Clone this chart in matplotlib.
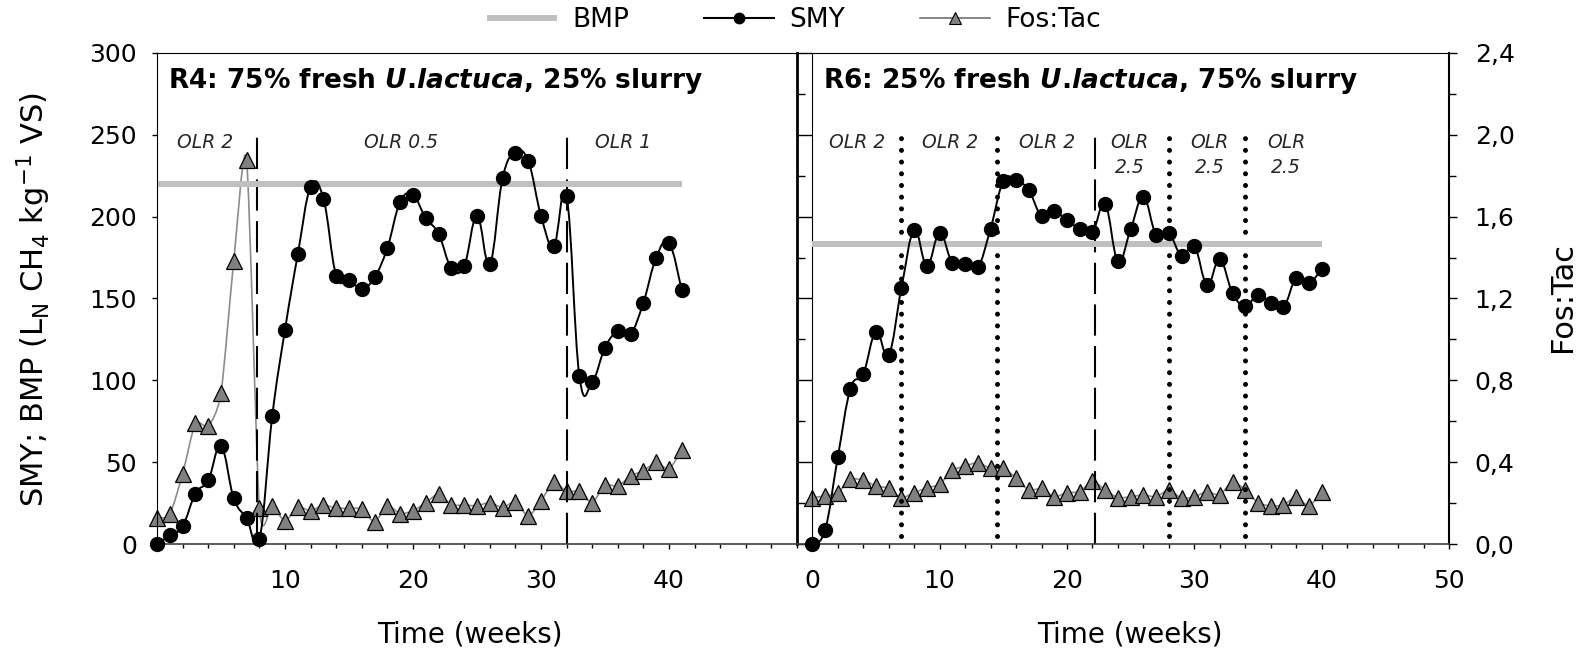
import matplotlib
matplotlib.use("Agg")
import matplotlib.pyplot as plt
import matplotlib.ticker as mticker
from matplotlib.lines import Line2D
from matplotlib.patches import PathPatch
from matplotlib.path import Path

plt.rcParams["font.family"] = "DejaVu Sans"
plt.rcParams["mathtext.fontset"] = "custom"
plt.rcParams["mathtext.rm"] = "DejaVu Sans"
plt.rcParams["mathtext.it"] = "DejaVu Sans:italic:bold"
plt.rcParams["mathtext.default"] = "regular"

# --- R4 reactor (75% U. lactuca) ---
r4_weeks = list(range(42))
r4_smy = [0, 5.5, 11, 31, 39, 60, 28, 16, 3, 78, 131, 177, 218, 211, 164, 161.5,
          156, 163, 181, 209, 213, 199, 189.5, 168.5, 170, 200.5, 171, 223.5, 239,
          234, 200.5, 182, 212.5, 102.5, 99, 120, 130, 128.5, 147.5, 175, 184, 155]
r4_fostac = [0.128, 0.147, 0.344, 0.59, 0.576, 0.74, 1.384, 1.875, 0.176, 0.188,
             0.114, 0.183, 0.163, 0.192, 0.176, 0.176, 0.171, 0.11, 0.188, 0.15,
             0.163, 0.204, 0.245, 0.192, 0.192, 0.188, 0.204, 0.179, 0.208, 0.138,
             0.212, 0.302, 0.258, 0.258, 0.204, 0.289, 0.284, 0.334, 0.359, 0.40,
             0.368, 0.461]
r4_bmp = 220
r4_bmp_span = [0, 41]
r4_dashed = [7.8, 32]
r4_olr_pos = [3.75, 19.1, 36.4]
r4_olr_text = ["OLR 2", "OLR 0.5", "OLR 1"]

# --- R6 reactor (25% U. lactuca) ---
r6_weeks = list(range(41))
r6_smy = [0, 8.6, 53, 95, 104, 129.7, 115.6, 156.4, 191.6, 170, 190, 171.7, 171,
          169, 192.6, 221.6, 222.2, 216, 200.4, 203.2, 197.7, 192.6, 190.6, 207.5,
          172.8, 192.2, 212, 189, 190, 176.2, 182, 158.5, 173.8, 153.4, 145.2,
          152.3, 147.2, 144.6, 162.4, 159.3, 168]
r6_fostac = [0.228, 0.236, 0.252, 0.317, 0.313, 0.285, 0.273, 0.228, 0.252, 0.276,
             0.293, 0.361, 0.382, 0.398, 0.371, 0.371, 0.325, 0.264, 0.273, 0.232,
             0.252, 0.257, 0.309, 0.265, 0.228, 0.232, 0.241, 0.232, 0.265, 0.225,
             0.232, 0.257, 0.241, 0.306, 0.265, 0.203, 0.187, 0.192, 0.232, 0.187,
             0.257]
r6_bmp = 183
r6_bmp_span = [0, 40]
r6_dotted = [7, 14.5, 28, 34]
r6_dashed = [22.2]
r6_olr_pos = [3.5, 10.8, 18.4, 24.9, 31.2, 37.2]
r6_olr_text = ["OLR 2", "OLR 2", "OLR 2", "OLR\n2.5", "OLR\n2.5", "OLR\n2.5"]

BMP_COLOR = "#c0c0c0"
TRI_FILL = "#808080"
TRI_LINE = "#8c8c8c"
TICK_FS = 18


def _spline_path(x, y, k=1 / 6):
    """Smooth curve through the points as cubic Bezier segments."""
    verts = [(x[0], y[0])]
    codes = [Path.MOVETO]
    n = len(x)
    for i in range(n - 1):
        a = max(i - 1, 0)
        b = min(i + 2, n - 1)
        verts += [(x[i] + k * (x[i + 1] - x[a]), y[i] + k * (y[i + 1] - y[a])),
                  (x[i + 1] - k * (x[b] - x[i]), y[i + 1] - k * (y[b] - y[i])),
                  (x[i + 1], y[i + 1])]
        codes += [Path.CURVE4] * 3
    return Path(verts, codes)


def _draw_series(ax_smy, ax_ft, weeks, smy, fostac, bmp, bmp_span):
    ax_smy.plot(bmp_span, [bmp, bmp], color=BMP_COLOR, lw=4.3,
                solid_capstyle="butt", zorder=2)
    ax_ft.add_patch(PathPatch(_spline_path(weeks, fostac, k=0.12), fill=False,
                              edgecolor=TRI_LINE, lw=1.2, zorder=2))
    ax_ft.plot(weeks, fostac, ls="none", marker="^", ms=11, mfc=TRI_FILL,
               mec="k", mew=0.9, clip_on=False, zorder=3)
    ax_smy.add_patch(PathPatch(_spline_path(weeks, smy, k=0.2), fill=False,
                               edgecolor="k", lw=1.4, zorder=3))
    ax_smy.plot(weeks, smy, ls="none", marker="o", ms=10, color="k",
                clip_on=False, zorder=4)


def _dashed(ax, x):
    ax.plot([x, x], [0, 251], color="k", lw=1.5, ls=(0, (15, 5)), zorder=1)


def _dotted(ax, x):
    ax.plot([x, x], [5, 253], color="k", lw=3.6, ls=(0, (0.01, 2.33)),
            dash_capstyle="round", zorder=1)


def _olr(ax, positions, labels):
    for x, s in zip(positions, labels):
        y = 245 if "\n" not in s else 237.5
        ax.text(x, y, s, ha="center", va="center", fontsize=13.5,
                style="italic", color="#262626", linespacing=1.35,
                multialignment="center")


fig = plt.figure(figsize=(15.88, 6.51), dpi=100)
W, H = 1588, 651
ax1 = fig.add_axes([157 / W, 106.7 / H, 640 / W, 491.6 / H])
ax2 = fig.add_axes([797 / W, 106.7 / H, 652 / W, 491.6 / H])
ax1t = ax1.twinx()
ax2t = ax2.twinx()

for ax, axt in ((ax1, ax1t), (ax2, ax2t)):
    ax.set_zorder(axt.get_zorder() + 1)
    ax.patch.set_visible(False)
    ax.set_ylim(0, 300)
    axt.set_ylim(0, 2.4)
    ax.xaxis.set_minor_locator(mticker.MultipleLocator(2))
    ax.tick_params(axis="x", which="major", direction="out", length=3.5,
                   width=1, labelsize=TICK_FS, pad=14)
    ax.tick_params(axis="x", which="minor", direction="out", length=3, width=1)
    ax.spines["bottom"].set_linewidth(1.2)
    ax.spines["bottom"].set_color("#404040")
    ax.spines["right"].set_visible(False)
    for side in ("left", "right", "top", "bottom"):
        axt.spines[side].set_visible(False)

# left panel
ax1.set_xlim(0, 50)
ax1.xaxis.set_major_locator(mticker.FixedLocator([10, 20, 30, 40]))
ax1.yaxis.set_major_locator(mticker.MultipleLocator(50))
ax1.tick_params(axis="y", direction="out", length=3.5, width=1,
                labelsize=TICK_FS, pad=11)
ax1.spines["left"].set_linewidth(0.8)
ax1.spines["top"].set_linewidth(0.8)
ax1t.set_yticks([])
ax1t.set_xlim(0, 50)

# right panel
ax2.set_xlim(-1.2, 50)
ax2.xaxis.set_major_locator(mticker.MultipleLocator(10))
ax2.yaxis.set_major_locator(mticker.MultipleLocator(50))
ax2.yaxis.set_minor_locator(mticker.MultipleLocator(25))
ax2.tick_params(axis="y", which="major", direction="in", length=11, width=1,
                labelleft=False)
ax2.tick_params(axis="y", which="minor", direction="in", length=6, width=1)
ax2.spines["left"].set_linewidth(2)
ax2.spines["top"].set_linewidth(0.8)
ax2.spines["top"].set_bounds(0, 50)
ax2.axvline(0, color="k", lw=0.8, zorder=1)

ax2t.set_xlim(-1.2, 50)
ax2t.spines["right"].set_visible(True)
ax2t.spines["right"].set_linewidth(1.5)
ax2t.yaxis.set_major_locator(mticker.MultipleLocator(0.4))
ax2t.yaxis.set_minor_locator(mticker.MultipleLocator(0.2))
ax2t.yaxis.set_major_formatter(
    mticker.FuncFormatter(lambda v, _: f"{v:.1f}".replace(".", ",")))
ax2t.tick_params(axis="y", which="major", direction="out", length=6, width=1,
                 labelsize=TICK_FS, pad=12.5)
ax2t.tick_params(axis="y", which="minor", direction="out", length=5, width=1)

# data
_draw_series(ax1, ax1t, r4_weeks, r4_smy, r4_fostac, r4_bmp, r4_bmp_span)
_draw_series(ax2, ax2t, r6_weeks, r6_smy, r6_fostac, r6_bmp, r6_bmp_span)

for x in r4_dashed:
    _dashed(ax1, x)
for x in r6_dashed:
    _dashed(ax2, x)
for x in r6_dotted:
    _dotted(ax2, x)

_olr(ax1, r4_olr_pos, r4_olr_text)
_olr(ax2, r6_olr_pos, r6_olr_text)

ax1.text(0.85, 283, r"R4: 75% fresh $\mathit{U}$.$\mathit{lactuca}$, 25% slurry",
         fontsize=19, fontweight="bold", va="center", ha="left")
ax2.text(0.85, 283, r"R6: 25% fresh $\mathit{U}$.$\mathit{lactuca}$, 75% slurry",
         fontsize=19, fontweight="bold", va="center", ha="left")

# axis titles
fig.text(470 / W, 1 - 634 / H, "Time (weeks)", ha="center", va="center", fontsize=20)
fig.text(1130 / W, 1 - 634 / H, "Time (weeks)", ha="center", va="center", fontsize=20)
fig.text(34 / W, 1 - 300 / H, "SMY; BMP (L$_N$ CH$_4$ kg$^{-1}$ VS)",
         rotation=90, ha="center", va="center", fontsize=22)
fig.text(1563 / W, 1 - 297 / H, "Fos:Tac", rotation=90, ha="center",
         va="center", fontsize=22)

# legend
handles = [
    Line2D([], [], color=BMP_COLOR, lw=4.3, solid_capstyle="butt"),
    Line2D([], [], color="k", lw=1.5, marker="o", ms=7.5),
    Line2D([], [], color="#707070", lw=1.2, marker="^", ms=8, mfc=TRI_FILL,
           mec="k", mew=0.8),
]
fig.legend(handles, ["BMP", "SMY", "Fos:Tac"], loc="center left",
           bbox_to_anchor=(487 / W, 1 - 20 / H), ncol=3, frameon=False,
           fontsize=19, handlelength=2.65, handletextpad=0.57,
           columnspacing=2.85, borderpad=0, borderaxespad=0)

fig.savefig("out.png", dpi=100)
